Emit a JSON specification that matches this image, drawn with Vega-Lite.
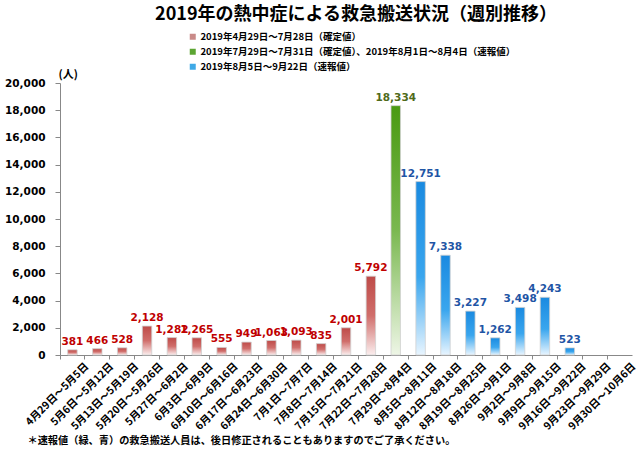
{
  "$schema": "https://vega.github.io/schema/vega-lite/v6.json",
  "width": 572,
  "height": 272,
  "autosize": {"type": "none"},
  "padding": {"left": 60, "top": 83, "right": 8, "bottom": 98},
  "background": "white",
  "title": {
    "text": "2019年の熱中症による救急搬送状況（週別推移）",
    "font": "Noto Sans CJK JP",
    "fontSize": 18,
    "fontWeight": "bold",
    "color": "#000000",
    "anchor": "middle",
    "frame": "group",
    "dx": 10,
    "offset": 8
  },
  "config": {
    "view": {"stroke": null},
    "axis": {"grid": false}
  },
  "data": {
    "values": [
      {"week": "4月29日～5月5日", "value": 381, "series": "2019年4月29日～7月28日（確定値）"},
      {"week": "5月6日～5月12日", "value": 466, "series": "2019年4月29日～7月28日（確定値）"},
      {"week": "5月13日～5月19日", "value": 528, "series": "2019年4月29日～7月28日（確定値）"},
      {"week": "5月20日～5月26日", "value": 2128, "series": "2019年4月29日～7月28日（確定値）"},
      {"week": "5月27日～6月2日", "value": 1282, "series": "2019年4月29日～7月28日（確定値）"},
      {"week": "6月3日～6月9日", "value": 1265, "series": "2019年4月29日～7月28日（確定値）"},
      {"week": "6月10日～6月16日", "value": 555, "series": "2019年4月29日～7月28日（確定値）"},
      {"week": "6月17日～6月23日", "value": 949, "series": "2019年4月29日～7月28日（確定値）"},
      {"week": "6月24日～6月30日", "value": 1063, "series": "2019年4月29日～7月28日（確定値）"},
      {"week": "7月1日～7月7日", "value": 1093, "series": "2019年4月29日～7月28日（確定値）"},
      {"week": "7月8日～7月14日", "value": 835, "series": "2019年4月29日～7月28日（確定値）"},
      {"week": "7月15日～7月21日", "value": 2001, "series": "2019年4月29日～7月28日（確定値）"},
      {"week": "7月22日～7月28日", "value": 5792, "series": "2019年4月29日～7月28日（確定値）"},
      {"week": "7月29日～8月4日", "value": 18334, "series": "2019年7月29日～7月31日（確定値）、2019年8月1日～8月4日（速報値）"},
      {"week": "8月5日～8月11日", "value": 12751, "series": "2019年8月5日～9月22日（速報値）"},
      {"week": "8月12日～8月18日", "value": 7338, "series": "2019年8月5日～9月22日（速報値）"},
      {"week": "8月19日～8月25日", "value": 3227, "series": "2019年8月5日～9月22日（速報値）"},
      {"week": "8月26日～9月1日", "value": 1262, "series": "2019年8月5日～9月22日（速報値）"},
      {"week": "9月2日～9月8日", "value": 3498, "series": "2019年8月5日～9月22日（速報値）"},
      {"week": "9月9日～9月15日", "value": 4243, "series": "2019年8月5日～9月22日（速報値）"},
      {"week": "9月16日～9月22日", "value": 523, "series": "2019年8月5日～9月22日（速報値）"},
      {"week": "9月23日～9月29日", "value": null, "series": "2019年8月5日～9月22日（速報値）"},
      {"week": "9月30日～10月6日", "value": null, "series": "2019年8月5日～9月22日（速報値）"}
    ]
  },
  "encoding": {
    "x": {
      "field": "week",
      "type": "ordinal",
      "sort": null,
      "scale": {
        "domain": ["4月29日～5月5日", "5月6日～5月12日", "5月13日～5月19日", "5月20日～5月26日", "5月27日～6月2日", "6月3日～6月9日", "6月10日～6月16日", "6月17日～6月23日", "6月24日～6月30日", "7月1日～7月7日", "7月8日～7月14日", "7月15日～7月21日", "7月22日～7月28日", "7月29日～8月4日", "8月5日～8月11日", "8月12日～8月18日", "8月19日～8月25日", "8月26日～9月1日", "9月2日～9月8日", "9月9日～9月15日", "9月16日～9月22日", "9月23日～9月29日", "9月30日～10月6日"],
        "paddingInner": 0,
        "paddingOuter": 0
      },
      "axis": {
        "bandPosition": 0,
        "labelAngle": -45,
        "labelAlign": "right",
        "labelBaseline": "top",
        "labelOffset": 11,
        "labelPadding": 2,
        "labelFont": "Noto Sans CJK JP",
        "labelFontSize": 10.5,
        "labelFontWeight": "bold",
        "labelColor": "#000000",
        "labelLimit": 200,
        "domainColor": "#888888",
        "tickColor": "#888888",
        "tickSize": 4,
        "title": "＊速報値（緑、青）の救急搬送人員は、後日修正されることもありますのでご了承ください。",
        "titleFont": "Noto Sans CJK JP",
        "titleFontSize": 10.2,
        "titleFontWeight": "bold",
        "titleColor": "#000000",
        "titleAnchor": "start",
        "titleAlign": "left",
        "titleBaseline": "middle",
        "titleX": -33,
        "titleY": 85
      }
    },
    "y": {
      "field": "value",
      "type": "quantitative",
      "scale": {"domain": [0, 20000], "nice": false},
      "axis": {
        "values": [0, 2000, 4000, 6000, 8000, 10000, 12000, 14000, 16000, 18000, 20000],
        "format": ",d",
        "labelFont": "DejaVu Sans",
        "labelFontSize": 10.5,
        "labelFontWeight": "bold",
        "labelColor": "#000000",
        "labelPadding": 10,
        "domainColor": "#888888",
        "tickColor": "#888888",
        "tickSize": 5,
        "title": "(人)",
        "titleAngle": 0,
        "titleFont": "Noto Sans CJK JP",
        "titleFontSize": 11,
        "titleFontWeight": "bold",
        "titleColor": "#000000",
        "titleAlign": "left",
        "titleBaseline": "middle",
        "titleX": -2,
        "titleY": -9
      }
    }
  },
  "layer": [
    {
      "transform": [{"filter": "datum.series == '2019年4月29日～7月28日（確定値）'"}],
      "mark": {
        "type": "bar",
        "width": {"band": 0.38},
        "stroke": "#d0d0d0",
        "strokeWidth": 0.8,
        "fill": {
          "gradient": "linear", "x1": 0, "y1": 0, "x2": 0, "y2": 1,
          "stops": [
            {"offset": 0, "color": "#be4b48"},
            {"offset": 0.5, "color": "#d06e6b"},
            {"offset": 1, "color": "#fbeeee"}
          ]
        }
      }
    },
    {
      "transform": [{"filter": "datum.series == '2019年7月29日～7月31日（確定値）、2019年8月1日～8月4日（速報値）'"}],
      "mark": {
        "type": "bar",
        "width": {"band": 0.38},
        "stroke": "#d0d0d0",
        "strokeWidth": 0.8,
        "fill": {
          "gradient": "linear", "x1": 0, "y1": 0, "x2": 0, "y2": 1,
          "stops": [
            {"offset": 0, "color": "#4a9a12"},
            {"offset": 0.5, "color": "#7ab850"},
            {"offset": 1, "color": "#eef6e6"}
          ]
        }
      }
    },
    {
      "transform": [{"filter": "datum.series == '2019年8月5日～9月22日（速報値）' && isValid(datum.value)"}],
      "mark": {
        "type": "bar",
        "width": {"band": 0.38},
        "stroke": "#d0d0d0",
        "strokeWidth": 0.8,
        "fill": {
          "gradient": "linear", "x1": 0, "y1": 0, "x2": 0, "y2": 1,
          "stops": [
            {"offset": 0, "color": "#1a8ae0"},
            {"offset": 0.55, "color": "#3aa6ee"},
            {"offset": 1, "color": "#e8f5ff"}
          ]
        }
      }
    },
    {
      "transform": [{"filter": "datum.series == '2019年4月29日～7月28日（確定値）'"}],
      "mark": {"type": "text", "baseline": "bottom", "dy": -3, "font": "DejaVu Sans", "fontSize": 10.5, "fontWeight": "bold", "color": "#c00000"},
      "encoding": {"text": {"field": "value", "type": "quantitative", "format": ","}}
    },
    {
      "transform": [{"filter": "datum.series == '2019年7月29日～7月31日（確定値）、2019年8月1日～8月4日（速報値）'"}],
      "mark": {"type": "text", "baseline": "bottom", "dy": -3, "font": "DejaVu Sans", "fontSize": 10.5, "fontWeight": "bold", "color": "#4f6a1a"},
      "encoding": {"text": {"field": "value", "type": "quantitative", "format": ","}}
    },
    {
      "transform": [{"filter": "datum.series == '2019年8月5日～9月22日（速報値）' && isValid(datum.value)"}],
      "mark": {"type": "text", "baseline": "bottom", "dy": -3, "font": "DejaVu Sans", "fontSize": 10.5, "fontWeight": "bold", "color": "#1f55a5"},
      "encoding": {"text": {"field": "value", "type": "quantitative", "format": ","}}
    },
    {
      "transform": [{"filter": "isValid(datum.value)"}],
      "mark": {"type": "square", "opacity": 0},
      "encoding": {
        "color": {
          "field": "series",
          "type": "nominal",
          "scale": {
            "domain": ["2019年4月29日～7月28日（確定値）", "2019年7月29日～7月31日（確定値）、2019年8月1日～8月4日（速報値）", "2019年8月5日～9月22日（速報値）"],
            "range": ["#c98a88", "#5ca532", "#3fa9e6"]
          },
          "legend": {
            "orient": "none",
            "legendX": 128,
            "legendY": -51,
            "title": null,
            "padding": 0,
            "symbolType": "square",
            "symbolSize": 36,
            "symbolOpacity": 1,
            "symbolStrokeWidth": 0,
            "labelFont": "Noto Sans CJK JP",
            "labelFontSize": 9.5,
            "labelFontWeight": "bold",
            "labelColor": "#000000",
            "labelOffset": 3,
            "labelLimit": 500,
            "rowPadding": 4
          }
        }
      }
    }
  ]
}
